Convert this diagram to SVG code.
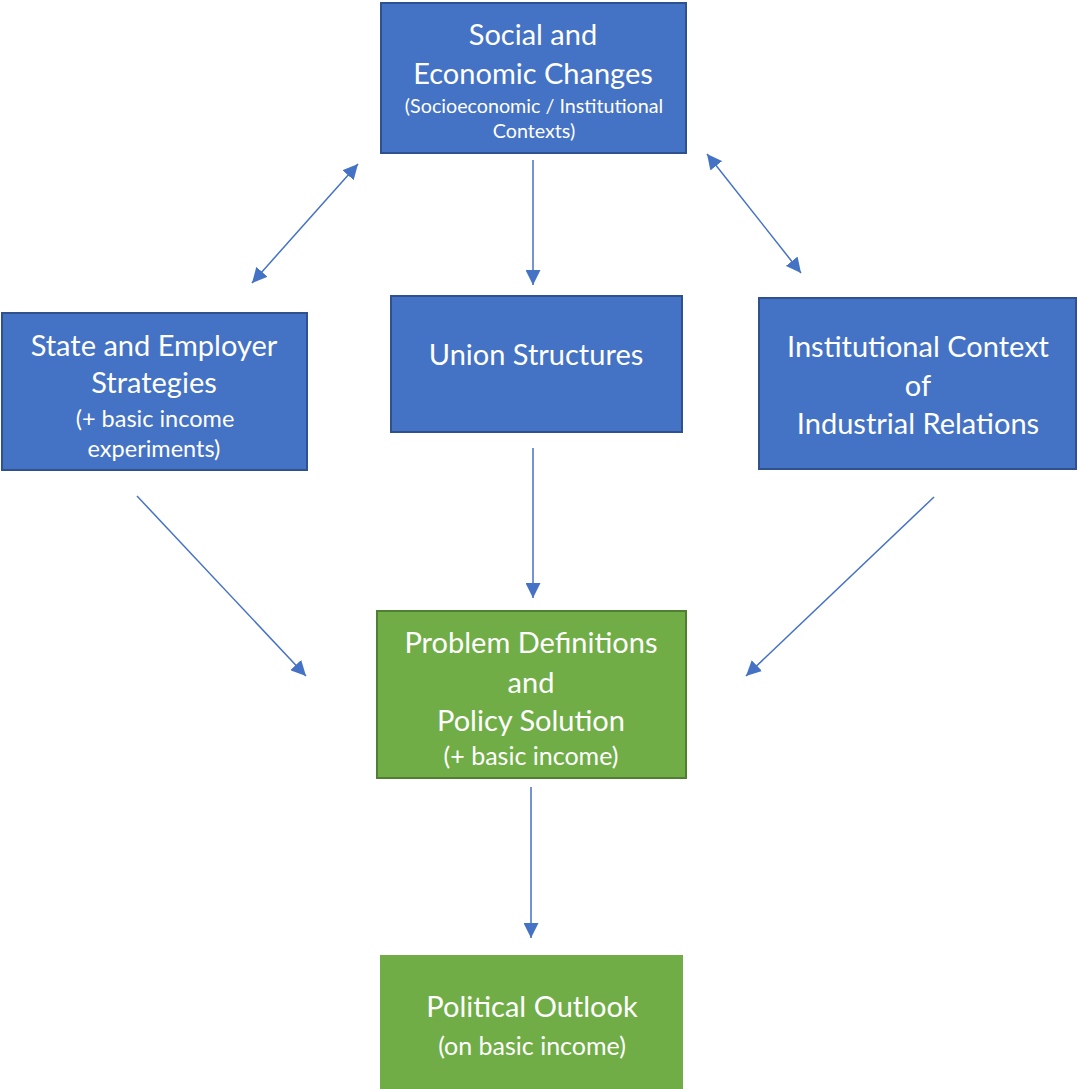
<svg xmlns="http://www.w3.org/2000/svg" width="1078" height="1089" viewBox="0 0 1078 1089">
  <style>
    .blue { fill: #4472C4; stroke: #2F528F; stroke-width: 2; }
    .green { fill: #70AD47; stroke: #507E32; stroke-width: 2; }
    .green-plain { fill: #70AD47; }
    text { font-family: Lato, "Open Sans", sans-serif; fill: #FFFFFF; text-anchor: middle; }
    .big { font-size: 29px; }
    .sub-s { font-size: 19.7px; }
    .sub-m { font-size: 23.5px; }
    .sub-l { font-size: 25px; }
    .link { stroke: #4472C4; stroke-width: 1.5; fill: none; }
  </style>
  <defs>
    <marker id="head" viewBox="0 0 10 10" refX="10" refY="5" markerWidth="15" markerHeight="15" markerUnits="userSpaceOnUse" orient="auto-start-reverse">
      <path d="M0,0 L10,5 L0,10 Z" fill="#4472C4"/>
    </marker>
  </defs>

  <g id="social-economic-changes">
    <rect class="blue" x="381" y="3" width="305" height="150"/>
    <text class="big" x="533" y="45">Social and</text>
    <text class="big" x="533" y="84">Economic Changes</text>
    <text class="sub-s" x="534" y="113">(Socioeconomic / Institutional</text>
    <text class="sub-s" x="534" y="138">Contexts)</text>
  </g>

  <g id="state-employer-strategies">
    <rect class="blue" x="2" y="313" width="305" height="157"/>
    <text class="big" x="154" y="356">State and Employer</text>
    <text class="big" x="154" y="393">Strategies</text>
    <text class="sub-m" x="155" y="427">(+ basic income</text>
    <text class="sub-m" x="154" y="457">experiments)</text>
  </g>

  <g id="union-structures">
    <rect class="blue" x="391" y="296" width="291" height="136"/>
    <text class="big" x="536" y="365">Union Structures</text>
  </g>

  <g id="institutional-context">
    <rect class="blue" x="759" y="298" width="317" height="171"/>
    <text class="big" x="918" y="357">Institutional Context</text>
    <text class="big" x="918" y="396">of</text>
    <text class="big" x="918" y="434">Industrial Relations</text>
  </g>

  <g id="problem-definitions">
    <rect class="green" x="377" y="611" width="309" height="167"/>
    <text class="big" x="531" y="653">Problem Definitions</text>
    <text class="big" x="531" y="693">and</text>
    <text class="big" x="531" y="731">Policy Solution</text>
    <text class="sub-l" x="531" y="765">(+ basic income)</text>
  </g>

  <g id="political-outlook">
    <rect class="green-plain" x="380" y="955" width="303" height="134"/>
    <text class="big" x="532" y="1017">Political Outlook</text>
    <text class="sub-l" x="532" y="1055">(on basic income)</text>
  </g>

  <g id="connectors">
    <line class="link" x1="533" y1="160" x2="533" y2="285" marker-end="url(#head)"/>
    <line class="link" x1="358" y1="164" x2="252" y2="283" marker-start="url(#head)" marker-end="url(#head)"/>
    <line class="link" x1="707" y1="154" x2="801" y2="273" marker-start="url(#head)" marker-end="url(#head)"/>
    <line class="link" x1="533" y1="448" x2="533" y2="598" marker-end="url(#head)"/>
    <line class="link" x1="137" y1="496" x2="306" y2="676" marker-end="url(#head)"/>
    <line class="link" x1="934" y1="497" x2="746" y2="676" marker-end="url(#head)"/>
    <line class="link" x1="531" y1="787" x2="531" y2="938" marker-end="url(#head)"/>
  </g>
</svg>
